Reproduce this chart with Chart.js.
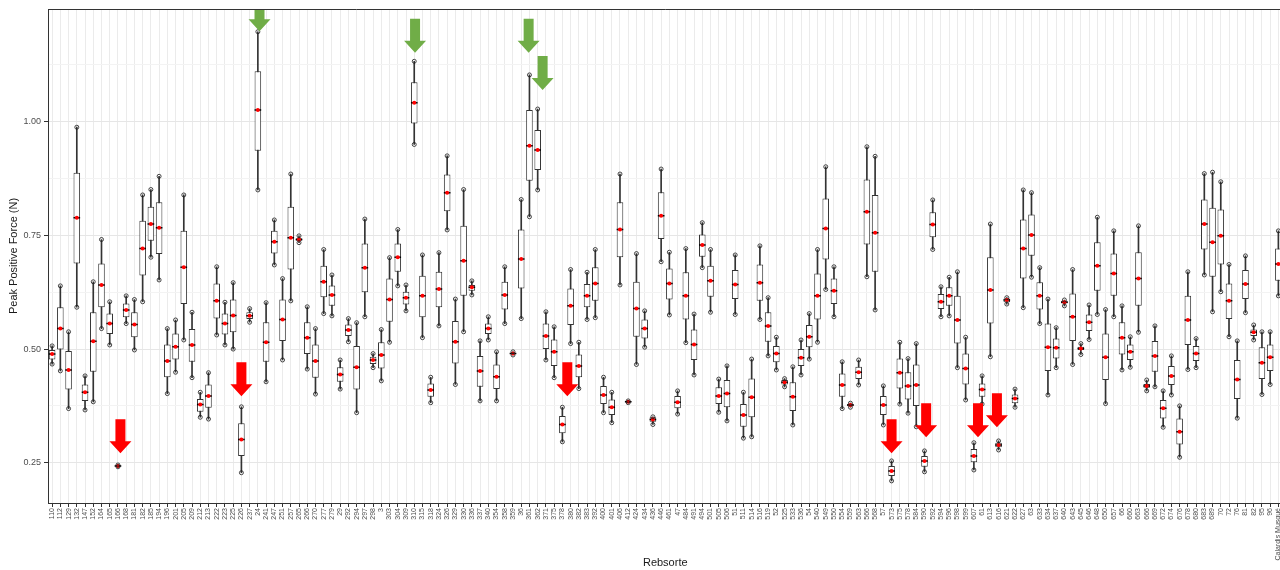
<!DOCTYPE html>
<html>
<head>
<meta charset="utf-8">
<title>Peak Positive Force by Rebsorte</title>
<script src="https://cdn.jsdelivr.net/npm/chart.js@4.4.1/dist/chart.umd.min.js"></script>
<style>
    html, body { margin: 0; padding: 0; background: #fff; overflow: hidden; }
    #wrap { width: 1288px; height: 570px; }
</style>
</head>
<body>
<div id="wrap"><canvas id="forceChart" width="1288" height="570"></canvas></div>
<script>
// Grape varieties (x axis)
const categories = [
    '110','112','129','132','147','152','164','165','166','168',
    '181','182','185','194','196','201','205','209','212','213',
    '222','223','225','226','237','24','241','247','251','257',
    '265','266','270','277','279','29','292','294','297','298',
    '3','303','304','309','310','315','318','324','326','329',
    '330','336','337','340','354','358','359','36','361','362',
    '371','375','378','380','382','383','392','400','401','406',
    '412','424','434','436','446','461','47','484','491','494',
    '501','505','506','51','511','514','516','519','52','525',
    '533','536','54','540','549','550','554','559','563','566',
    '568','57','573','575','578','584','590','592','594','596',
    '598','599','607','61','613','616','621','622','627','63',
    '633','634','637','640','643','645','646','648','650','657',
    '66','660','663','666','669','672','674','676','678','680',
    '683','689','70','72','76','81','82','95','96','Calardis Musqué'
];

// Box statistics per variety (N)
const whiskerLow = [
    0.467,0.452,0.369,0.592,0.366,0.384,0.545,0.509,0.241,0.556,
    0.498,0.604,0.702,0.652,0.402,0.449,0.520,0.437,0.350,0.346,
    0.531,0.509,0.500,0.228,0.559,0.850,0.428,0.685,0.476,0.606,
    0.734,0.456,0.401,0.578,0.573,0.412,0.516,0.360,0.571,0.459,
    0.430,0.515,0.639,0.584,0.950,0.525,0.382,0.551,0.762,0.422,
    0.538,0.619,0.386,0.520,0.386,0.556,0.487,0.567,0.791,0.850,
    0.476,0.437,0.296,0.512,0.413,0.565,0.569,0.360,0.338,0.641,
    0.382,0.466,0.504,0.334,0.692,0.575,0.357,0.514,0.443,0.679,
    0.581,0.361,0.342,0.576,0.304,0.307,0.565,0.485,0.454,0.417,
    0.333,0.443,0.478,0.515,0.631,0.571,0.369,0.372,0.421,0.659,
    0.586,0.333,0.210,0.379,0.359,0.329,0.230,0.719,0.571,0.573,
    0.459,0.388,0.234,0.379,0.483,0.278,0.599,0.372,0.591,0.658,
    0.556,0.399,0.459,0.595,0.466,0.488,0.521,0.576,0.380,0.571,
    0.454,0.460,0.537,0.408,0.417,0.328,0.399,0.262,0.455,0.459,
    0.663,0.582,0.626,0.527,0.348,0.580,0.520,0.400,0.422,0.617
];
const quartileLow = [
    0.477,0.499,0.411,0.688,0.386,0.450,0.592,0.533,0.242,0.570,
    0.526,0.662,0.738,0.709,0.438,0.477,0.599,0.472,0.362,0.371,
    0.567,0.532,0.537,0.265,0.566,0.936,0.472,0.710,0.518,0.675,
    0.738,0.489,0.437,0.614,0.595,0.428,0.529,0.411,0.625,0.467,
    0.457,0.560,0.670,0.598,0.996,0.570,0.395,0.592,0.803,0.468,
    0.617,0.628,0.417,0.533,0.412,0.587,0.489,0.633,0.870,0.894,
    0.500,0.463,0.315,0.553,0.438,0.592,0.606,0.379,0.355,0.702,
    0.383,0.527,0.523,0.340,0.742,0.609,0.370,0.565,0.476,0.703,
    0.615,0.379,0.372,0.610,0.329,0.350,0.606,0.516,0.471,0.422,
    0.364,0.463,0.504,0.565,0.697,0.599,0.395,0.374,0.434,0.730,
    0.670,0.355,0.221,0.413,0.389,0.375,0.241,0.746,0.588,0.595,
    0.512,0.422,0.251,0.395,0.556,0.284,0.603,0.381,0.655,0.705,
    0.587,0.452,0.479,0.600,0.518,0.498,0.540,0.628,0.432,0.617,
    0.488,0.476,0.595,0.415,0.450,0.347,0.421,0.290,0.509,0.474,
    0.719,0.659,0.686,0.566,0.390,0.610,0.529,0.434,0.452,0.650
];
const medians = [
    0.489,0.545,0.454,0.789,0.405,0.517,0.641,0.556,0.243,0.586,
    0.554,0.721,0.775,0.767,0.474,0.505,0.680,0.509,0.378,0.397,
    0.606,0.556,0.574,0.301,0.573,1.026,0.515,0.736,0.565,0.745,
    0.741,0.525,0.474,0.648,0.619,0.444,0.542,0.460,0.679,0.476,
    0.487,0.609,0.702,0.613,1.042,0.617,0.410,0.632,0.844,0.516,
    0.694,0.636,0.452,0.545,0.439,0.619,0.490,0.698,0.947,0.938,
    0.529,0.494,0.334,0.595,0.463,0.617,0.644,0.399,0.372,0.763,
    0.384,0.589,0.545,0.345,0.793,0.644,0.383,0.617,0.510,0.729,
    0.650,0.397,0.402,0.642,0.355,0.394,0.646,0.551,0.490,0.427,
    0.395,0.481,0.527,0.617,0.765,0.628,0.421,0.377,0.449,0.802,
    0.756,0.377,0.232,0.448,0.419,0.421,0.254,0.774,0.604,0.617,
    0.564,0.457,0.265,0.411,0.630,0.289,0.608,0.391,0.721,0.751,
    0.617,0.504,0.503,0.603,0.571,0.501,0.559,0.683,0.482,0.666,
    0.525,0.494,0.655,0.419,0.485,0.370,0.441,0.318,0.564,0.490,
    0.775,0.735,0.749,0.606,0.433,0.643,0.537,0.470,0.482,0.687
];
const quartileHigh = [
    0.498,0.592,0.496,0.888,0.422,0.581,0.688,0.578,0.244,0.600,
    0.581,0.782,0.813,0.823,0.510,0.534,0.760,0.544,0.390,0.422,
    0.644,0.578,0.609,0.337,0.581,1.111,0.559,0.760,0.609,0.813,
    0.744,0.559,0.510,0.683,0.640,0.460,0.554,0.507,0.732,0.483,
    0.515,0.655,0.732,0.626,1.087,0.661,0.424,0.670,0.884,0.562,
    0.771,0.641,0.485,0.556,0.466,0.648,0.492,0.763,1.026,0.982,
    0.556,0.521,0.353,0.633,0.488,0.643,0.680,0.419,0.389,0.823,
    0.385,0.648,0.565,0.350,0.845,0.677,0.397,0.669,0.543,0.752,
    0.683,0.416,0.432,0.674,0.379,0.435,0.686,0.581,0.507,0.432,
    0.427,0.500,0.553,0.666,0.831,0.655,0.446,0.379,0.461,0.873,
    0.839,0.397,0.243,0.479,0.449,0.466,0.265,0.801,0.621,0.636,
    0.617,0.490,0.280,0.424,0.702,0.294,0.611,0.400,0.785,0.796,
    0.647,0.556,0.523,0.606,0.622,0.505,0.576,0.735,0.534,0.710,
    0.559,0.510,0.713,0.423,0.518,0.388,0.463,0.347,0.617,0.507,
    0.829,0.811,0.807,0.644,0.476,0.674,0.543,0.504,0.510,0.721
];
const whiskerHigh = [
    0.507,0.639,0.538,0.988,0.441,0.648,0.741,0.604,0.245,0.617,
    0.609,0.839,0.851,0.880,0.545,0.564,0.839,0.581,0.405,0.448,
    0.681,0.603,0.646,0.373,0.589,1.198,0.602,0.784,0.655,0.885,
    0.749,0.593,0.545,0.719,0.663,0.476,0.567,0.558,0.786,0.490,
    0.543,0.701,0.763,0.641,1.133,0.707,0.438,0.712,0.925,0.610,
    0.851,0.650,0.518,0.571,0.494,0.681,0.494,0.829,1.103,1.028,
    0.582,0.549,0.372,0.675,0.515,0.669,0.719,0.438,0.405,0.885,
    0.386,0.710,0.584,0.351,0.896,0.713,0.408,0.721,0.577,0.778,
    0.719,0.434,0.463,0.707,0.405,0.478,0.727,0.613,0.526,0.435,
    0.461,0.520,0.578,0.719,0.901,0.681,0.472,0.381,0.476,0.945,
    0.924,0.419,0.254,0.515,0.479,0.512,0.276,0.828,0.637,0.658,
    0.670,0.526,0.294,0.441,0.775,0.298,0.613,0.412,0.850,0.844,
    0.679,0.610,0.547,0.608,0.675,0.512,0.597,0.790,0.587,0.760,
    0.595,0.527,0.771,0.432,0.551,0.408,0.485,0.375,0.670,0.523,
    0.886,0.889,0.868,0.686,0.518,0.705,0.553,0.538,0.538,0.760
];
// red mean markers sit on the median line at this resolution
const means = medians;

// Highlight arrows: category position and value of the arrow tip
const greenArrowAt = [25.2, 44.1, 57.9, 59.6];
const greenArrowTip = [1.199, 1.152, 1.152, 1.070];
const redArrowAt = [8.3, 23.0, 62.6, 102.0, 106.2, 112.5, 114.8];
const redArrowTip = [0.271, 0.396, 0.396, 0.271, 0.306, 0.306, 0.328];

// Axis
const yTickValues = [0.25, 0.50, 0.75, 1.00];
const yMinorValues = [0.375, 0.625, 0.875, 1.125];
const yMin = 0.1614;
const yMax = 1.248;

// Plugins
const panelTop = {
    id: 'panelTop',
    afterDraw(chart) {
        const { ctx, chartArea: a } = chart;
        ctx.save();
        ctx.strokeStyle = '#333333';
        ctx.lineWidth = 1;
        ctx.beginPath();
        ctx.moveTo(a.left, a.top + 0.5);
        ctx.lineTo(a.right, a.top + 0.5);
        ctx.stroke();
        ctx.restore();
    }
};

function drawArrow(ctx, px, py, color) {
    const total = 34, head = 12, headHalf = 11, shaftHalf = 5;
    ctx.fillStyle = color;
    ctx.beginPath();
    ctx.moveTo(px, py);
    ctx.lineTo(px - headHalf, py - head);
    ctx.lineTo(px - shaftHalf, py - head);
    ctx.lineTo(px - shaftHalf, py - total);
    ctx.lineTo(px + shaftHalf, py - total);
    ctx.lineTo(px + shaftHalf, py - head);
    ctx.lineTo(px + headHalf, py - head);
    ctx.closePath();
    ctx.fill();
}

const arrowPlugin = {
    id: 'arrows',
    afterDatasetsDraw(chart) {
        const { ctx, chartArea: a, scales: { x, y } } = chart;
        ctx.save();
        ctx.beginPath();
        ctx.rect(a.left, a.top, a.width, a.height);
        ctx.clip();
        greenArrowAt.forEach((pos, k) => {
            drawArrow(ctx, x.getPixelForValue(pos), y.getPixelForValue(greenArrowTip[k]), '#70ad47');
        });
        redArrowAt.forEach((pos, k) => {
            drawArrow(ctx, x.getPixelForValue(pos), y.getPixelForValue(redArrowTip[k]), '#ff0000');
        });
        ctx.restore();
    }
};

Chart.defaults.font.family = '"Liberation Sans", Arial, sans-serif';

const boxes = categories.map((c, i) => [quartileLow[i], quartileHigh[i]]);
const whiskers = categories.map((c, i) => [whiskerLow[i], whiskerHigh[i]]);

const endPoint = {
    type: 'line',
    showLine: false,
    pointStyle: 'circle',
    pointRadius: 2,
    pointBackgroundColor: 'rgba(255,255,255,0)',
    pointBorderColor: '#1a1a1a',
    pointBorderWidth: 0.8,
    order: 0
};

const ctx = document.getElementById('forceChart').getContext('2d');
new Chart(ctx, {
    type: 'bar',
    data: {
        labels: categories,
        datasets: [
            Object.assign({ data: whiskerHigh }, endPoint),
            Object.assign({ data: whiskerLow }, endPoint),
            {
                type: 'line',
                data: means,
                showLine: false,
                pointStyle: 'circle',
                pointRadius: 2,
                pointBackgroundColor: '#ff0000',
                pointBorderColor: '#ff0000',
                pointBorderWidth: 0,
                order: 1
            },
            {
                type: 'line',
                data: medians,
                showLine: false,
                pointStyle: 'line',
                pointRadius: 3.3,
                pointBorderColor: '#000000',
                pointBorderWidth: 1.5,
                order: 2
            },
            {
                data: boxes,
                backgroundColor: '#ffffff',
                borderColor: '#333333',
                borderWidth: 1,
                borderSkipped: false,
                barPercentage: 0.8,
                categoryPercentage: 1,
                grouped: false,
                order: 3
            },
            {
                data: whiskers,
                backgroundColor: '#333333',
                barThickness: 1,
                grouped: false,
                order: 4
            }
        ]
    },
    options: {
        responsive: false,
        animation: false,
        devicePixelRatio: 1,
        layout: { padding: { top: 9, right: 2, left: 0, bottom: 0 } },
        plugins: {
            legend: { display: false },
            tooltip: { enabled: false }
        },
        scales: {
            x: {
                type: 'category',
                offset: true,
                afterFit: (scale) => { scale.height = 67; },
                grid: {
                    offset: false,
                    color: '#ebebeb',
                    lineWidth: 1,
                    tickLength: 4,
                    tickColor: '#333333'
                },
                border: { display: true, color: '#333333', width: 1 },
                ticks: {
                    autoSkip: false,
                    maxRotation: 90,
                    minRotation: 90,
                    padding: 1,
                    color: '#4d4d4d',
                    font: { size: 7 }
                },
                title: {
                    display: true,
                    text: 'Rebsorte',
                    color: '#1a1a1a',
                    font: { size: 11 },
                    padding: { top: 0, bottom: 0 }
                }
            },
            y: {
                min: yMin,
                max: yMax,
                afterFit: (scale) => { scale.width = 48; },
                afterBuildTicks: (scale) => {
                    scale.ticks = yTickValues.concat(yMinorValues)
                        .sort((a, b) => a - b)
                        .map(v => ({ value: v }));
                },
                grid: {
                    color: (c) => c.tick && yTickValues.includes(c.tick.value) ? '#e6e6e6' : '#f3f3f3',
                    tickColor: (c) => c.tick && yTickValues.includes(c.tick.value) ? '#333333' : 'rgba(0,0,0,0)',
                    tickLength: 4
                },
                border: { display: true, color: '#333333', width: 1 },
                ticks: {
                    color: '#4d4d4d',
                    font: { size: 9 },
                    padding: 3,
                    callback: (v) => yTickValues.includes(v) ? v.toFixed(2) : ''
                },
                title: {
                    display: true,
                    text: 'Peak Positive Force (N)',
                    color: '#1a1a1a',
                    font: { size: 11 },
                    padding: { top: 7, bottom: 0 }
                }
            }
        }
    },
    plugins: [arrowPlugin, panelTop]
});
</script>
</body>
</html>
